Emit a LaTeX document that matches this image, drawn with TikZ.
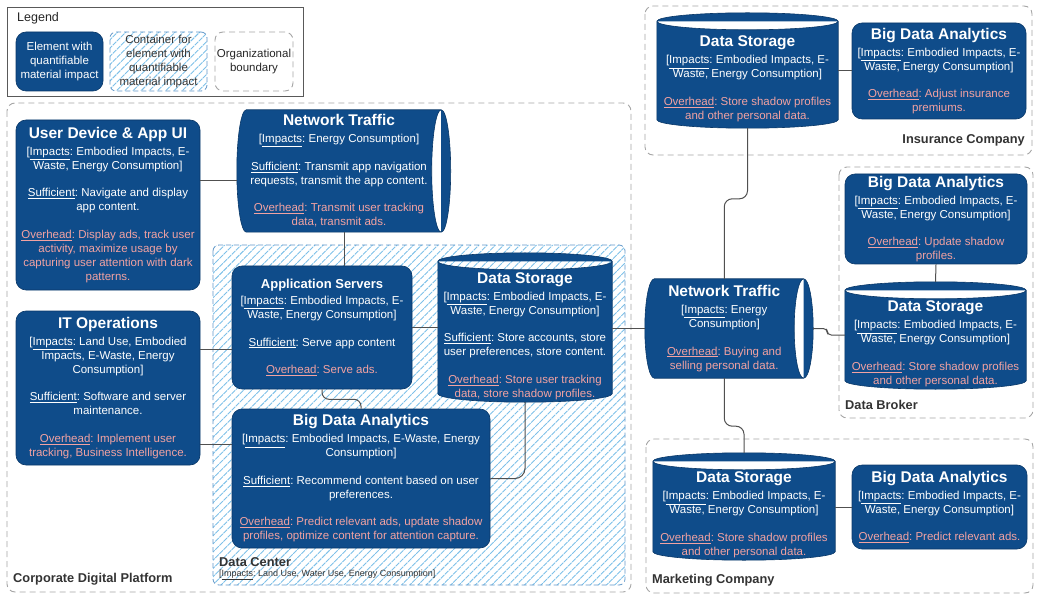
\documentclass[tikz,border=0pt]{standalone}
\usepackage{fontspec}
\setmainfont{Liberation Sans}
\usetikzlibrary{calc,patterns.meta}

\definecolor{elemblue}{RGB}{15,76,138}
\definecolor{elemedge}{RGB}{10,56,104}
\definecolor{ohpink}{RGB}{242,162,162}
\definecolor{hatchblue}{RGB}{125,192,232}
\definecolor{dcedge}{RGB}{95,150,200}
\definecolor{orgedge}{RGB}{165,165,165}
\definecolor{connline}{RGB}{80,80,80}
\definecolor{labelgray}{RGB}{51,51,51}

\pgfdeclarelayer{back}
\pgfdeclarelayer{background}
\pgfsetlayers{back,background,main}

\newcommand{\ttl}[1]{{\fontsize{15.5}{17}\selectfont\bfseries #1}\\[3pt]}
\newcommand{\impx}{[\underline{Impacts}:}
\newcommand{\suff}{\underline{Sufficient}:}
\newcommand{\ovh}[1]{\textcolor{ohpink}{#1}}
\newcommand{\ovhd}{\underline{Overhead}:}
% storage drum (vertical) behind node #1
\newcommand{\drumV}[1]{%
  \begin{pgfonlayer}{background}
    \path[drum] let \p1=(#1.north west), \p2=(#1.south east), \n1={(\x2-\x1)/2} in
      (\x1,\y1+8.5pt) arc[start angle=180,end angle=0,x radius=\n1,y radius=8.5pt]
      -- (\x2,\y2+8.5pt) arc[start angle=0,end angle=-180,x radius=\n1,y radius=8.5pt] -- cycle
      (\x1,\y1+8.5pt) arc[start angle=180,end angle=360,x radius=\n1,y radius=8.5pt];
  \end{pgfonlayer}}
% pipe drum (horizontal) behind node #1
\newcommand{\drumH}[1]{%
  \begin{pgfonlayer}{background}
    \path[drum] let \p1=(#1.north west), \p2=(#1.south east), \n1={(\y1-\y2)/2} in
      (\x2,\y1) arc[start angle=90,end angle=-90,x radius=9.5pt,y radius=\n1]
      -- (\x1+9.5pt,\y2) arc[start angle=270,end angle=90,x radius=9.5pt,y radius=\n1] -- cycle
      (\x2,\y1) arc[start angle=90,end angle=270,x radius=9.5pt,y radius=\n1];
  \end{pgfonlayer}}

\begin{document}
\frenchspacing
\begin{tikzpicture}[
  x=1pt,y=1pt,
  every node/.style={font=\fontsize{11.5}{14}\selectfont},
  elem/.style={rectangle,rounded corners=10pt,fill=elemblue,draw=elemedge,line width=0.6pt,text=white,align=center,inner sep=1pt},
  drumtxt/.style={rectangle,text=white,align=center,inner sep=0pt},
  drum/.style={fill=elemblue,draw=elemedge,line width=0.6pt},
  conn/.style={draw=connline,line width=1pt},
  orgbound/.style={draw=orgedge,dash pattern=on 6pt off 4pt,rounded corners=8pt,line width=0.9pt},
  dcbox/.style={draw=dcedge,dash pattern=on 5pt off 3pt,rounded corners=6pt,line width=0.8pt,
    pattern={Lines[angle=45,distance=5.8pt,line width=0.9pt]},pattern color=hatchblue},
  orglabel/.style={font=\fontsize{12.8}{15}\selectfont\bfseries,text=labelgray,inner sep=0pt}
]
\useasboundingbox (0,0) rectangle (1040,-601);
% ================= boundaries and containers =================
\begin{pgfonlayer}{back}
  \draw[orgbound] (7,-103) rectangle (631,-592);
  \draw[dcbox] (213,-245) rectangle (625,-585);
  \draw[orgbound] (645,-6) rectangle (1032,-155);
  \draw[orgbound] (839,-167) rectangle (1033,-418);
  \draw[orgbound] (646,-439) rectangle (1033,-593);
\end{pgfonlayer}
\node[orglabel,anchor=west] (cdplabel) at (13,-579) {Corporate Digital Platform};
\node[orglabel,anchor=west] (dclabel) at (219,-562) {Data Center};
\node[anchor=west,font=\fontsize{9}{10}\selectfont,text=labelgray,inner sep=0pt] (dcimp) at (219,-575) {[\underline{Impacts}: Land Use, Water Use, Energy Consumption]};
\node[orglabel,anchor=east] (inslabel) at (1025,-140) {Insurance Company};
\node[orglabel,anchor=west] (dblabel) at (845,-405) {Data Broker};
\node[orglabel,anchor=west] (mclabel) at (652,-580) {Marketing Company};
% ================= legend =================
\draw[draw=black!65,line width=0.8pt] (7,-7) rectangle (303,-96);
\node[anchor=west,font=\fontsize{12.5}{14}\selectfont,text=black!85,inner sep=0pt] (legtitle) at (17,-18) {Legend};
\node[elem,minimum width=87,minimum height=59] (legelem) at (59.5,-61.5) {Element with\\quantifiable\\material impact};
\node[dcbox,minimum width=97,minimum height=59,text=labelgray,align=center,inner sep=0pt] (legcont) at (158.5,-61.5) {Container for\\element with\\quantifiable\\material impact};
\node[orgbound,minimum width=78,minimum height=59,text=black!85,align=center,inner sep=0pt] (legorg) at (254,-61.5) {Organizational\\boundary};
% ================= corporate digital platform =================
\node[elem,minimum width=184,minimum height=170] (ud) at (108,-205) {\ttl{User Device \& App UI}\impx{} Embodied Impacts, E-\\Waste, Energy Consumption]\\[13.5pt]\suff{} Navigate and display\\app content.\\[13.5pt]\ovh{\ovhd{} Display ads, track user}\\\ovh{activity, maximize usage by}\\\ovh{capturing user attention with dark}\\\ovh{patterns.}};
\node[elem,minimum width=184,minimum height=154] (it) at (108,-388) {\ttl{IT Operations}\impx{} Land Use, Embodied\\Impacts, E-Waste, Energy\\Consumption]\\[13.5pt]\suff{} Software and server\\maintenance.\\[13.5pt]\ovh{\ovhd{} Implement user}\\\ovh{tracking, Business Intelligence.}};
\node[drumtxt,minimum width=204,minimum height=122] (nt1) at (339,-171) {\ttl{Network Traffic}\impx{} Energy Consumption]\\[13.5pt]\suff{} Transmit app navigation\\requests, transmit the app content.\\[13.5pt]\ovh{\ovhd{} Transmit user tracking}\\\ovh{data, transmit ads.}};
\drumH{nt1}
% ================= data center =================
\node[elem,minimum width=180,minimum height=123] (as) at (322,-327.5) {{\fontsize{13}{15}\selectfont\bfseries Application Servers}\\[2pt]\impx{} Embodied Impacts, E-\\Waste, Energy Consumption]\\[13.5pt]\suff{} Serve app content\\[13.5pt]\ovh{\ovhd{} Serve ads.}};
\node[drumtxt,minimum width=174,minimum height=132] (ds2) at (525,-336) {\ttl{Data Storage}\impx{} Embodied Impacts, E-\\Waste, Energy Consumption]\\[13.5pt]\suff{} Store accounts, store\\user preferences, store content.\\[13.5pt]\ovh{\ovhd{} Store user tracking}\\\ovh{data, store shadow profiles.}};
\drumV{ds2}
\node[elem,minimum width=258,minimum height=139] (bda) at (361,-478.5) {\ttl{Big Data Analytics}\impx{} Embodied Impacts, E-Waste, Energy\\Consumption]\\[13.5pt]\suff{} Recommend content based on user\\preferences.\\[13.5pt]\ovh{\ovhd{} Predict relevant ads, update shadow}\\\ovh{profiles, optimize content for attention capture.}};
% ================= network traffic (outside) =================
\node[drumtxt,minimum width=158.5,minimum height=99] (nt2) at (724.25,-328.5) {\ttl{Network Traffic}\impx{} Energy\\Consumption]\\[13.5pt]\ovh{\ovhd{} Buying and}\\\ovh{selling personal data.}};
\drumH{nt2}
% ================= insurance company =================
\node[drumtxt,minimum width=181,minimum height=98] (ds1) at (747.5,-79) {\ttl{Data Storage}\impx{} Embodied Impacts, E-\\Waste, Energy Consumption]\\[13.5pt]\ovh{\ovhd{} Store shadow profiles}\\\ovh{and other personal data.}};
\drumV{ds1}
\node[elem,minimum width=174,minimum height=96] (bdai) at (939,-71) {\ttl{Big Data Analytics}\impx{} Embodied Impacts, E-\\Waste, Energy Consumption]\\[13.5pt]\ovh{\ovhd{} Adjust insurance}\\\ovh{premiums.}};
% ================= data broker =================
\node[elem,minimum width=182,minimum height=90] (bdab) at (936,-219) {\ttl{Big Data Analytics}\impx{} Embodied Impacts, E-\\Waste, Energy Consumption]\\[13.5pt]\ovh{\ovhd{} Update shadow}\\\ovh{profiles.}};
\node[drumtxt,minimum width=181,minimum height=90] (dsb) at (935.5,-344) {\ttl{Data Storage}\impx{} Embodied Impacts, E-\\Waste, Energy Consumption]\\[13.5pt]\ovh{\ovhd{} Store shadow profiles}\\\ovh{and other personal data.}};
\drumV{dsb}
% ================= marketing company =================
\node[drumtxt,minimum width=182,minimum height=90] (ds3) at (744,-515) {\ttl{Data Storage}\impx{} Embodied Impacts, E-\\Waste, Energy Consumption]\\[13.5pt]\ovh{\ovhd{} Store shadow profiles}\\\ovh{and other personal data.}};
\drumV{ds3}
\node[elem,minimum width=175,minimum height=84] (bdam) at (939.5,-507) {\ttl{Big Data Analytics}\impx{} Embodied Impacts, E-\\Waste, Energy Consumption]\\[13.5pt]\ovh{\ovhd{} Predict relevant ads.}};
% ================= connectors =================
\coordinate (udout) at ([yshift=24pt]ud.east);
\draw[conn] (udout) -- (udout -| nt1.west);
\coordinate (ntfoot) at ([xshift=5pt]nt1.south);
\draw[conn] (ntfoot) -- (ntfoot |- as.north);
\coordinate (itup) at ([yshift=-22pt]as.west);
\draw[conn] (it.east |- itup) -- (itup);
\coordinate (itdown) at ([yshift=21pt]it.south east);
\draw[conn] (itdown) -- (itdown -| bda.west);
\draw[conn] (as.east) -- (as.east -| ds2.west);
\draw[conn,rounded corners=7pt] (as.south) -- ++(0,-10) -| (bda.north);
\draw[conn,rounded corners=10pt] (ds2.south) |- (bda.east);
\draw[conn] (ds2.east |- nt2.west) -- (nt2.west);
\draw[conn,rounded corners=8pt] (nt2.north) -- ++(0,80) -| (ds1.south);
\draw[conn,rounded corners=8pt] (nt2.south) -- ++(0,-48) -| ([yshift=17pt]ds3.north);
\draw[conn,rounded corners=4pt] ([xshift=9.5pt]nt2.east) -- ++(14,0) |- ([yshift=9pt]dsb.west);
\draw[conn] (bdai.west) -- (bdai.west -| ds1.east);
\draw[conn] (bdab.south) -- ([yshift=17pt]dsb.north);
\draw[conn] (bdam.west) -- (bdam.west -| ds3.east);
\end{tikzpicture}
\end{document}
